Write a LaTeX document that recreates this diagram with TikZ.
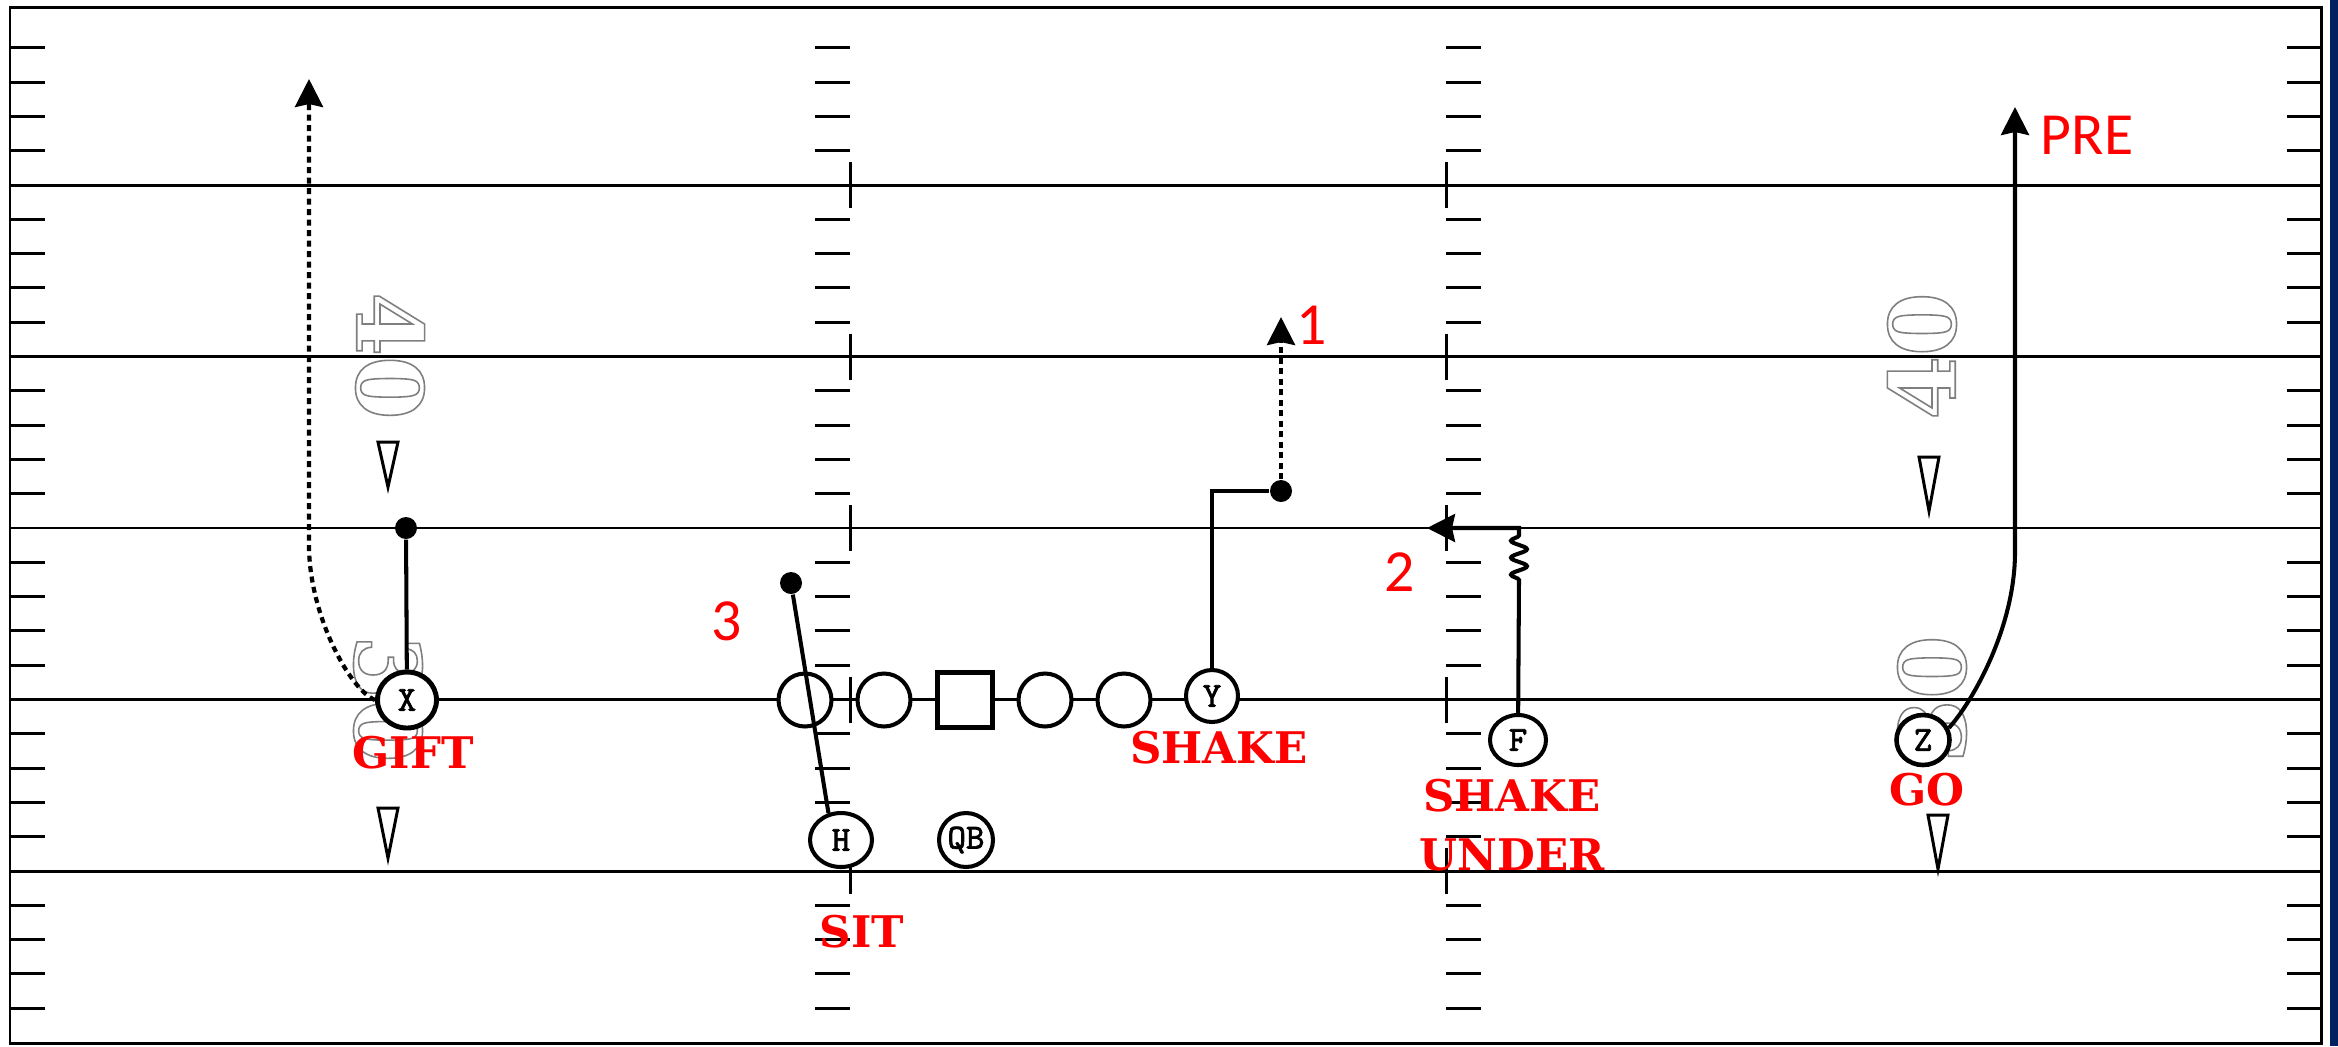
\documentclass[tikz,border=0pt]{standalone}
\usepackage{fontspec}
\usepackage{tikz}
\usetikzlibrary{arrows.meta,shapes.geometric,decorations.pathmorphing}
\newfontfamily\callfont{DejaVu Serif}
\newfontfamily\tagfont{Carlito}
\newfontfamily\posfont{Latin Modern Mono}[FakeBold=2]
\definecolor{CallRed}{HTML}{FF0000}
\definecolor{EdgeNavy}{HTML}{002060}
\definecolor{NumGray}{HTML}{7F7F7F}
\newcommand{\outlinetext}[1]{\special{pdf:literal direct 1 Tr 0.45 w}#1\special{pdf:literal direct 0 Tr}}

\begin{document}
\begin{tikzpicture}[x=0.1mm,y=-0.1mm,
  every node/.style={inner sep=0pt},
  field/.style={line width=0.85pt},
  route/.style={line width=1.15pt},
  dotroute/.style={line width=1.2pt, dash pattern=on 0.6mm off 0.45mm},
  tip/.style={-{Stealth[length=2.8mm,width=2.8mm,inset=0.3mm]}},
  man/.style={draw, fill=white, circle, line width=1.15pt, minimum size=5.3mm},
  block/.style={draw, fill=white, rectangle, line width=1.15pt, minimum size=5.5mm},
  skill/.style={draw, fill=white, ellipse, line width=1.15pt, font=\posfont\bfseries\fontsize{10}{10}\selectfont},
  stop/.style={circle, fill=black, minimum size=2.2mm},
  call/.style={text=CallRed, font=\callfont\bfseries\fontsize{12.4}{16.8}\selectfont, align=center},
  tag/.style={text=CallRed, font=\tagfont\fontsize{17}{17}\selectfont},
  yardnum/.style={text=NumGray, font=\callfont\bfseries\fontsize{26}{26}\selectfont},
  marker/.style={draw, fill=white, line width=0.85pt, line join=miter}]
  \useasboundingbox (0,0) rectangle (2338,1046);
  \fill[white] (0,0) rectangle (2338,1046);
  \fill[EdgeNavy] (2330,0) rectangle (2338,1046);
  \draw[field] (10,7) rectangle (2321,1043);
  \foreach \y in {185,356.5,699.5,871} \draw[field] (10,\y) -- (2321,\y);
  \draw[line width=0.6pt] (10,528) -- (2321,528);
  \foreach \y in {185,356.5,528,699.5,871,1042.5} {
    \foreach \k in {1,...,4} {
      \draw[field] (10,\y-\k*34.3) -- (45,\y-\k*34.3);
      \draw[field] (815,\y-\k*34.3) -- (850,\y-\k*34.3);
      \draw[field] (1446,\y-\k*34.3) -- (1481,\y-\k*34.3);
      \draw[field] (2287,\y-\k*34.3) -- (2321,\y-\k*34.3);
    }
  }
  \foreach \y in {185,356.5,528,699.5,871} {
    \draw[field] (850,\y-23) -- (850,\y+23);
    \draw[field] (1446,\y-23) -- (1446,\y+23);
  }
  \node[yardnum, rotate=-90] (l40) at (390,356) {\outlinetext{40}};
  \node[yardnum, rotate=-90] (l30) at (388,699) {\outlinetext{30}};
  \node[yardnum, rotate=90] (r40) at (1922,356) {\outlinetext{40}};
  \node[yardnum, rotate=90] (r30) at (1932,699) {\outlinetext{30}};
  \foreach \mx/\my/\mh in {388/442/45, 388/808/50, 1929/457/54, 1938/815/54}
    \draw[marker] (\mx-10,\my) -- (\mx+10,\my) -- (\mx,\my+\mh) -- cycle;

  \node[man] (lt) at (805,700) {};
  \node[man] (lg) at (884,700) {};
  \node[block] (c) at (965,700) {};
  \node[man] (rg) at (1045,700) {};
  \node[man] (rt) at (1124,700) {};
  \node[skill, minimum width=5.2mm, minimum height=5.2mm] (y) at (1212,696) {Y};
  \node[skill, line width=1.4pt, minimum width=5.9mm, minimum height=5.6mm] (x) at (407,700) {X};
  \node[skill, minimum width=6.2mm, minimum height=5.4mm] (h) at (841,840) {H};
  \node[skill, minimum width=5.4mm, minimum height=5.4mm] (qb) at (966,840) {QB};
  \node[skill, minimum width=5.6mm, minimum height=5.0mm] (f) at (1518,740) {F};
  \node[skill, line width=1.3pt, minimum width=5.3mm, minimum height=5.0mm] (z) at (1923,740) {Z};

  \node[stop] (xstop) at (406,528) {};
  \node[stop] (ystop) at (1281,491) {};
  \node[stop] (hstop) at (791,583) {};
  \coordinate (xbend) at (309,545);
  \coordinate (xend) at (309,79);
  \coordinate (yend) at (1281,317);
  \coordinate (fwig) at (1519,580);
  \coordinate (fturn) at (1519,528);
  \coordinate (fend) at (1427,528);
  \coordinate (zbend) at (2015,552);
  \coordinate (zend) at (2015,107);

  \draw[route] (x) -- (xstop);
  \draw[dotroute, tip] (x.west) .. controls (350,690) and (309,615) .. (xbend) -- (xend);
  \draw[route] (y) |- (ystop);
  \draw[dotroute, tip] (ystop) -- (yend);
  \draw[route] (h.115) -- (hstop);
  \draw[route, tip] (f) -- (fwig) decorate[decoration={snake, amplitude=0.8mm, segment length=1.7mm}] {-- (fturn)} -- (fend);
  \draw[route, tip] (z.25) .. controls (1970,705) and (2015,630) .. (zbend) -- (zend);

  \node[tag, anchor=west] (pre) at (2040,135) {PRE};
  \node[tag] (one) at (1312,325) {1};
  \node[tag] (two) at (1400,572) {2};
  \node[tag] (three) at (727,621) {3};
  \node[call] (gift) at (413,753) {GIFT};
  \node[call] (shake) at (1219,748) {SHAKE};
  \node[call] (sit) at (862,932) {SIT};
  \node[call] (shakeunder) at (1512,825) {SHAKE\\UNDER};
  \node[call] (go) at (1927,790) {GO};
\end{tikzpicture}
\end{document}
